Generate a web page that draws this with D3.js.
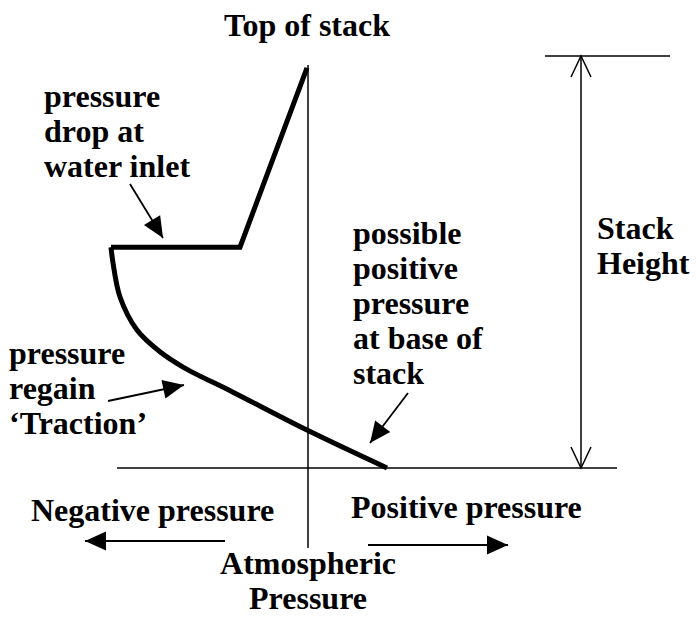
<!DOCTYPE html>
<html>
<head>
<meta charset="utf-8">
<script src="https://cdn.jsdelivr.net/npm/d3@7"></script>
<style>
  html, body { margin: 0; padding: 0; background: #fff; }
  svg text { font-family: "Liberation Serif", "Times New Roman", serif; font-weight: bold; fill: #000; }
</style>
</head>
<body>
<div id="chart"></div>
<script>
// ---- data (pressure relative to atmospheric, height as % of stack height) ----
const upperPressure = [-0.5, -34, -98.5];          // top of stack -> water inlet drop
const upperHeight   = [97.1, 53.6, 53.6];
const lowerPressure = [-98.5, -97.5, -94, -85.5, -74, -62.5, -37.5, -0.5, 39.5]; // pressure regain
const lowerHeight   = [53.6, 49.8, 41.5, 33.5, 28.2, 24.5, 18.4, 9.2, 0];
const stackTopHeight = 100;
const atmosphericPressure = 0;

const labelTop = ["Top of stack"];
const labelDrop = ["pressure", "drop at", "water inlet"];
const labelRegain = ["pressure", "regain", "\u2018Traction\u2019"];
const labelPositive = ["possible", "positive", "pressure", "at base of", "stack"];
const labelStack = ["Stack", "Height"];
const labelNeg = ["Negative pressure"];
const labelPos = ["Positive pressure"];
const labelAtm = ["Atmospheric", "Pressure"];

// ---- layout ----
const W = 696, H = 617;
const FS = 32, LH = 35;
const x = d3.scaleLinear().domain([-100, 160]).range([108, 628]);
const y = d3.scaleLinear().domain([0, 100]).range([468, 56]);

const svg = d3.select("#chart").append("svg").attr("width", W).attr("height", H);
const defs = svg.append("defs");
defs.append("marker").attr("id", "tri").attr("viewBox", "-22 -10 24 20")
  .attr("refX", 0).attr("refY", 0).attr("markerUnits", "userSpaceOnUse")
  .attr("markerWidth", 24).attr("markerHeight", 20).attr("orient", "auto")
  .append("path").attr("d", "M-21,-9.5 L0,0 L-21,9.5 Z").attr("fill", "#000");
defs.append("marker").attr("id", "chev").attr("viewBox", "-26 -12 28 24")
  .attr("refX", 0).attr("refY", 0).attr("markerUnits", "userSpaceOnUse")
  .attr("markerWidth", 28).attr("markerHeight", 24).attr("orient", "auto-start-reverse")
  .append("path").attr("d", "M-21,-10 L0,0 L-21,10").attr("fill", "none")
  .attr("stroke", "#000").attr("stroke-width", 1.5);

// axes
svg.append("line").attr("x1", x(-95.5)).attr("x2", x(154.5)).attr("y1", y(0)).attr("y2", y(0))
  .attr("stroke", "#000").attr("stroke-width", 1.5);
svg.append("line").attr("x1", x(atmosphericPressure)).attr("x2", x(atmosphericPressure))
  .attr("y1", y(97.8)).attr("y2", y(-19.4)).attr("stroke", "#000").attr("stroke-width", 1.5);

// stack height dimension
svg.append("line").attr("x1", x(118.5)).attr("x2", x(181)).attr("y1", y(stackTopHeight)).attr("y2", y(stackTopHeight))
  .attr("stroke", "#000").attr("stroke-width", 1.5);
svg.append("line").attr("x1", x(136.5)).attr("x2", x(136.5)).attr("y1", y(stackTopHeight)).attr("y2", y(0))
  .attr("stroke", "#000").attr("stroke-width", 1.5)
  .attr("marker-start", "url(#chev)").attr("marker-end", "url(#chev)");

// pressure profile
const upper = upperPressure.map((p, i) => [p, upperHeight[i]]);
const lower = lowerPressure.map((p, i) => [p, lowerHeight[i]]);
svg.append("path").datum(upper)
  .attr("d", d3.line().x(d => x(d[0])).y(d => y(d[1])).curve(d3.curveLinear))
  .attr("fill", "none").attr("stroke", "#000").attr("stroke-width", 5).attr("stroke-linejoin", "miter");
svg.append("path").datum(lower)
  .attr("d", d3.line().x(d => x(d[0])).y(d => y(d[1])).curve(d3.curveCatmullRom.alpha(0.5)))
  .attr("fill", "none").attr("stroke", "#000").attr("stroke-width", 5);

// annotation arrows
function arrow(x1, y1, x2, y2, w) {
  svg.append("line").attr("x1", x1).attr("y1", y1).attr("x2", x2).attr("y2", y2)
    .attr("stroke", "#000").attr("stroke-width", w || 1.8).attr("marker-end", "url(#tri)");
}
arrow(130, 184, 163, 238);
arrow(108, 401, 184, 385);
arrow(408, 393, 370, 443);
arrow(225, 541, 85, 541, 2);
arrow(368, 545, 508, 545, 2);

// texts
function block(lines, xx, y0, anchor) {
  const t = svg.append("text").attr("font-size", FS).attr("text-anchor", anchor || "start");
  lines.forEach((s, i) => t.append("tspan").attr("x", xx).attr("y", y0 + i * LH).text(s));
}
block(labelTop, 307, 36, "middle");
block(labelDrop, 44, 107);
block(labelRegain, 9, 364);
block(labelPositive, 353, 244);
block(labelStack, 597, 239);
block(labelNeg, 31, 521);
block(labelPos, 351, 518);
block(labelAtm, 308, 574, "middle");
</script>
</body>
</html>
